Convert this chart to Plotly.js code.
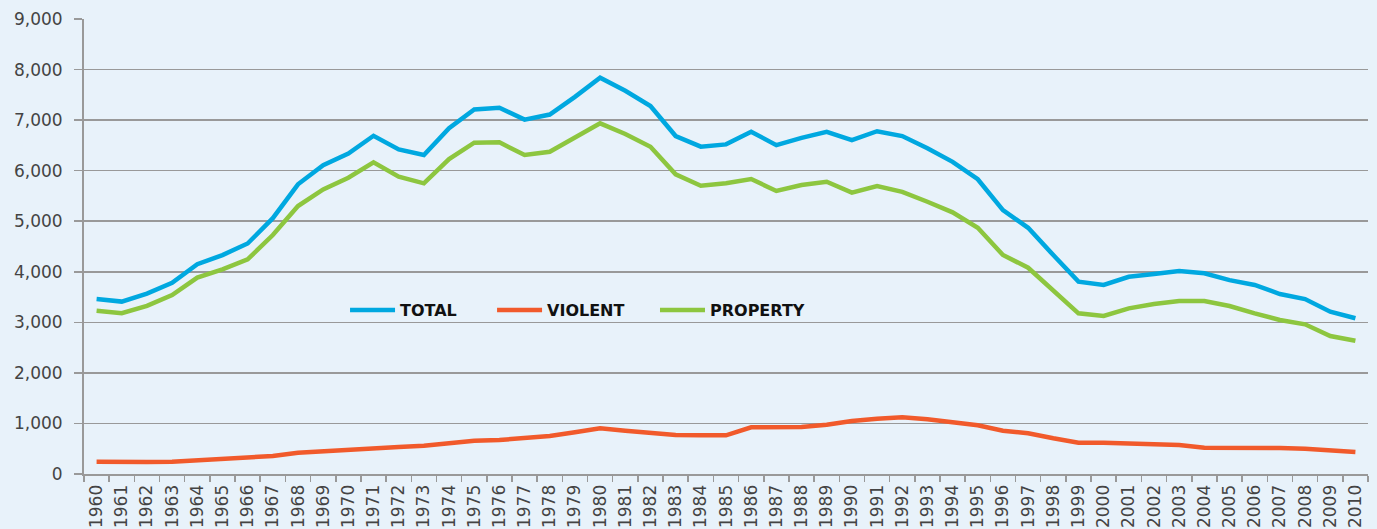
<!DOCTYPE html>
<html>
<head>
<meta charset="utf-8">
<script src="https://cdn.plot.ly/plotly-3.0.1.min.js"></script>
<style>
html,body{margin:0;padding:0;background:#E8F2FA;}
#chart{width:1377px;height:529px;}
</style>
</head>
<body>
<div id="chart"></div>
<script>
const years = ["1960","1961","1962","1963","1964","1965","1966","1967","1968","1969","1970","1971","1972","1973","1974","1975","1976","1977","1978","1979","1980","1981","1982","1983","1984","1985","1986","1987","1988","1989","1990","1991","1992","1993","1994","1995","1996","1997","1998","1999","2000","2001","2002","2003","2004","2005","2006","2007","2008","2009","2010"];

const total = [3460,3410,3570,3780,4150,4330,4560,5060,5730,6110,6340,6690,6420,6310,6840,7210,7245,7010,7110,7460,7840,7580,7280,6685,6475,6520,6770,6505,6650,6770,6605,6780,6685,6445,6175,5830,5220,4870,4330,3805,3740,3900,3955,4015,3970,3835,3740,3560,3460,3210,3080];

const violent = [240,232,236,242,268,288,310,356,422,455,468,508,534,560,607,659,672,712,752,824,903,857,811,771,765,765,923,917,930,976,1048,1094,1121,1082,1015,963,857,804,706,620,620,607,587,574,521,521,527,514,501,461,435];

const property = [3230,3180,3325,3540,3885,4048,4246,4727,5300,5630,5861,6165,5881,5750,6230,6553,6560,6309,6375,6652,6936,6725,6474,5927,5702,5750,5835,5598,5716,5782,5565,5696,5580,5386,5175,4871,4332,4080,3639,3178,3125,3277,3362,3422,3422,3323,3178,3046,2961,2729,2637];

const seriesNames = ["TOTAL","VIOLENT","PROPERTY"];
const seriesColors = ["#00A8E0","#F15A2B","#8DC63F"];
const seriesData = [total, violent, property];
const legendIds = ["legend","legend2","legend3"];
const legendX = [0.2033, 0.3178, 0.4447];

const traces = seriesData.map((d,i)=>({
  type:"scatter", mode:"lines", x:years, y:d, name:seriesNames[i],
  legend:legendIds[i],
  line:{color:seriesColors[i], width:4.5}
}));

const legendFont = {family:"DejaVu Sans, sans-serif", size:16, color:"#111", weight:700};
const layout = {
  width:1377, height:529,
  paper_bgcolor:"#E8F2FA", plot_bgcolor:"#E8F2FA",
  margin:{l:84, r:9, t:19, b:55},
  showlegend:true,
  xaxis:{type:"category", tickangle:-90, tickson:"boundaries", ticks:"outside", ticklen:6,
    tickcolor:"#999", tickwidth:1.5, showline:true, linecolor:"#999", linewidth:2,
    showgrid:false, ticklabelstandoff:2,
    tickfont:{family:"DejaVu Sans, sans-serif", size:17, color:"#444"},
    range:[-0.5, 50.5], fixedrange:true},
  yaxis:{range:[0,9000], dtick:1000, tickformat:",", ticks:"outside", ticklen:8,
    tickcolor:"#999", tickwidth:1.5, showline:true, linecolor:"#999", linewidth:2,
    gridcolor:"#999", gridwidth:1.5, zeroline:false, ticklabelstandoff:8,
    tickfont:{family:"DejaVu Sans, sans-serif", size:17, color:"#444"}}
};
legendIds.forEach((id,i)=>{
  layout[id] = {orientation:"h", x:legendX[i], y:0.36, xanchor:"left", yanchor:"middle",
    bgcolor:"rgba(0,0,0,0)", font:legendFont, itemwidth:45};
});

Plotly.newPlot("chart", traces, layout, {displayModeBar:false, staticPlot:true});
</script>
</body>
</html>
